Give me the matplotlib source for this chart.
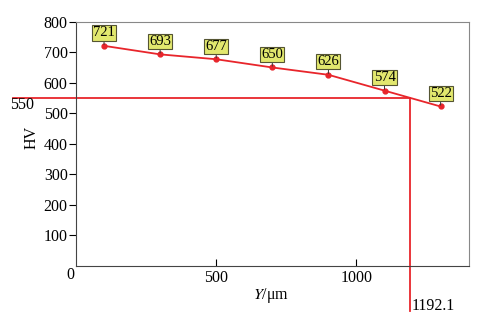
import matplotlib
matplotlib.use("Agg")
import matplotlib.pyplot as plt

# ── Data ──────────────────────────────────────────────────────
depth_um = [100, 300, 500, 700, 900, 1100, 1300]
hardness = [721, 693, 677, 650, 626, 574, 522]
hv_limit = 550
depth_at_limit = 1192.1

RED = "#e8252b"
BOX = "#e2e86e"

plt.rcParams["font.family"] = ["Liberation Serif", "DejaVu Serif"]
plt.rcParams["mathtext.fontset"] = "stix"

fig = plt.figure(figsize=(4.95, 3.2), dpi=100)
ax = fig.add_axes([0.1535, 0.170, 0.7933, 0.762])

ax.plot(depth_um, hardness, color=RED, lw=1.3, marker="o", ms=3.5, zorder=3)

# threshold lines (extend outside the axes)
ax.plot([-225, depth_at_limit], [hv_limit, hv_limit], color=RED, lw=1.3, clip_on=False)
ax.plot([depth_at_limit, depth_at_limit], [hv_limit, -148], color=RED, lw=1.3, clip_on=False)

for x, y in zip(depth_um, hardness):
    ax.annotate(str(y), xy=(x, y), xytext=(0, 13), textcoords="offset pixels",
                ha="center", va="center", fontsize=10.5,
                bbox=dict(boxstyle="square,pad=0.08", fc=BOX, ec="#555533", lw=0.8),
                arrowprops=dict(arrowstyle="-", color="#333333", lw=0.7,
                                shrinkA=0, shrinkB=1))

ax.set_xlim(0, 1400)
ax.set_ylim(0, 800)
ax.set_yticks([100, 200, 300, 400, 500, 600, 700, 800])
ax.set_xticks([500, 1000])
ax.tick_params(axis="y", direction="out", length=5, width=0.8, labelsize=11.5, pad=1)
ax.tick_params(axis="x", direction="in", length=5, width=0.8, labelsize=11.5, pad=3)

for side in ["left", "bottom"]:
    ax.spines[side].set_color("#444444")
for side in ["top", "right"]:
    ax.spines[side].set_color("#888888")

ax.text(-21, -31, "0", ha="center", va="center", fontsize=11.5, clip_on=False)
ax.text(-193, 528, "550", ha="center", va="center", fontsize=11.5, clip_on=False)
ax.text(1196, -131, "1192.1", ha="left", va="center", fontsize=11.5, clip_on=False)
ax.text(-157, 420, "HV", rotation=90, ha="center", va="center", fontsize=11.5, clip_on=False)
ax.text(697, -97, "$Y$/μm", ha="center", va="center", fontsize=11.5, clip_on=False)

fig.savefig("out.png", dpi=100)
